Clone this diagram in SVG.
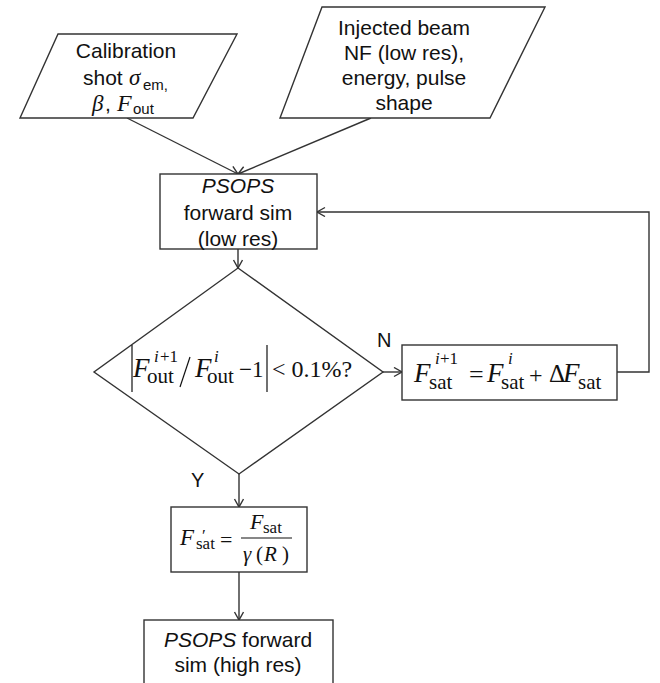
<svg xmlns="http://www.w3.org/2000/svg" width="660" height="683" viewBox="0 0 660 683">
<style>
.shape{fill:#fff;stroke:#333;stroke-width:1.4}
.conn{fill:none;stroke:#333;stroke-width:1.4}
.t{font-family:"Liberation Sans",Arial,sans-serif;font-size:21px;fill:#111;text-anchor:middle}
.ts{font-family:"Liberation Sans",Arial,sans-serif;fill:#111}
.m{font-family:"Liberation Serif","Times New Roman",serif;fill:#111}
.i{font-style:italic}
.lbl{font-family:"Liberation Sans",Arial,sans-serif;font-size:20px;fill:#111}
.bar{stroke:#111;stroke-width:1.2}
</style>
<defs>
<marker id="arr" markerWidth="12" markerHeight="12" refX="9" refY="5" orient="auto" markerUnits="userSpaceOnUse">
<path d="M1,0.5 L9,5 L1,9.5" fill="none" stroke="#333" stroke-width="1.4"/>
</marker>
</defs>
<rect width="660" height="683" fill="#fff"/>

<g id="connectors">
<line class="conn" x1="127" y1="118" x2="238" y2="174" marker-end="url(#arr)"/>
<line class="conn" x1="371" y1="118" x2="238" y2="174" marker-end="url(#arr)"/>
<line class="conn" x1="238" y1="249" x2="238" y2="268" marker-end="url(#arr)"/>
<line class="conn" x1="383" y1="372" x2="402" y2="372" marker-end="url(#arr)"/>
<polyline class="conn" points="617,372 649,372 649,212 317,212" marker-end="url(#arr)"/>
<line class="conn" x1="239" y1="474" x2="239" y2="507" marker-end="url(#arr)"/>
<line class="conn" x1="239" y1="572" x2="239" y2="620" marker-end="url(#arr)"/>
<text class="lbl" x="377" y="347">N</text>
<text class="lbl" x="191" y="487">Y</text>
</g>

<g id="calibration">
<polygon class="shape" points="58,34 237,34 193,118 20,118"/>
<text class="t" x="126" y="58">Calibration</text>
<text class="ts" font-size="21"><tspan x="83" y="85">shot</tspan><tspan class="m i" x="129" y="85" font-size="23">σ</tspan><tspan x="143" y="90" font-size="15">em,</tspan></text>
<text class="ts" font-size="21"><tspan class="m i" x="92" y="111" font-size="23">β</tspan><tspan x="105" y="111">,</tspan><tspan class="m i" x="117" y="111" font-size="24">F</tspan><tspan x="133" y="114" font-size="15">out</tspan></text>
</g>

<g id="injected">
<polygon class="shape" points="322,7 545,7 490,118 280,118"/>
<text class="t" x="404" y="35">Injected beam</text>
<text class="t" x="404" y="60">NF (low res),</text>
<text class="t" x="404" y="85">energy, pulse</text>
<text class="t" x="404" y="110">shape</text>
</g>

<g id="psops-low">
<rect class="shape" x="160" y="174" width="157" height="75"/>
<text class="t" x="238" y="193" font-style="italic">PSOPS</text>
<text class="t" x="238" y="220">forward sim</text>
<text class="t" x="238" y="246">(low res)</text>
</g>

<g id="decision">
<polygon class="shape" points="238,268 383,372 239,474 94,372"/>
<line class="bar" x1="132" y1="345" x2="132" y2="392"/>
<line class="bar" x1="190" y1="357" x2="180" y2="387"/>
<line class="bar" x1="267" y1="345" x2="267" y2="392"/>
<text class="m"><tspan class="i" x="133" y="377" font-size="27">F</tspan><tspan x="147" y="383" font-size="21">out</tspan><tspan class="i" x="154" y="362" font-size="17">i</tspan><tspan x="160" y="362" font-size="17">+1</tspan><tspan class="i" x="195" y="377" font-size="27">F</tspan><tspan x="207" y="383" font-size="21">out</tspan><tspan class="i" x="214" y="362" font-size="17">i</tspan><tspan x="239" y="377" font-size="23">−1</tspan><tspan x="272" y="377" font-size="24">&lt; 0.1%?</tspan></text>
</g>

<g id="update">
<rect class="shape" x="402" y="345" width="215" height="55"/>
<text class="m"><tspan class="i" x="414" y="382" font-size="27">F</tspan><tspan x="429" y="389" font-size="21">sat</tspan><tspan class="i" x="435" y="364" font-size="17">i</tspan><tspan x="440" y="364" font-size="17">+1</tspan><tspan x="469" y="383" font-size="26">=</tspan><tspan class="i" x="487" y="382" font-size="27">F</tspan><tspan x="501" y="389" font-size="21">sat</tspan><tspan class="i" x="508" y="364" font-size="17">i</tspan><tspan x="529" y="383" font-size="24">+</tspan><tspan x="549" y="382" font-size="25">Δ</tspan><tspan class="i" x="563" y="382" font-size="27">F</tspan><tspan x="578" y="389" font-size="21">sat</tspan></text>
</g>

<g id="scale">
<rect class="shape" x="171" y="507" width="136" height="65"/>
<line class="bar" x1="241" y1="538" x2="292" y2="538"/>
<text class="m"><tspan class="i" x="180" y="545" font-size="23">F</tspan><tspan x="196" y="549" font-size="17">sat</tspan><tspan x="202" y="541" font-size="17">′</tspan><tspan x="220" y="547" font-size="22">=</tspan><tspan class="i" x="250" y="529" font-size="22">F</tspan><tspan x="263" y="533" font-size="17">sat</tspan><tspan class="i" x="243" y="561" font-size="21">γ</tspan><tspan x="256" y="561" font-size="21">(</tspan><tspan class="i" x="264" y="561" font-size="21">R</tspan><tspan x="282" y="561" font-size="21">)</tspan></text>
</g>

<g id="psops-high">
<rect class="shape" x="144" y="620" width="189" height="70"/>
<text class="t" x="238" y="647"><tspan font-style="italic">PSOPS</tspan> forward</text>
<text class="t" x="238" y="672">sim (high res)</text>
</g>
</svg>
